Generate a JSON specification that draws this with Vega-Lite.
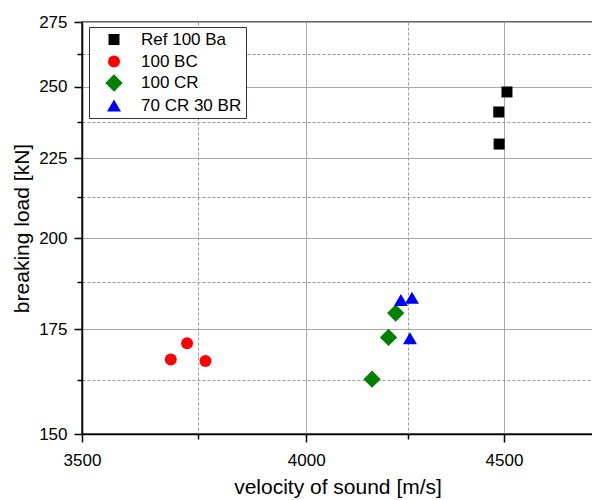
{
  "$schema": "https://vega.github.io/schema/vega-lite/v6.json",
  "width": 511,
  "height": 412,
  "autosize": {"type": "none"},
  "padding": {"left": 82, "top": 22, "right": 0, "bottom": 66},
  "config": {
    "font": "Liberation Sans",
    "view": {"stroke": "#333333", "strokeWidth": 1.5},
    "legend": {
      "orient": "none",
      "legendX": 7,
      "legendY": 5,
      "fillColor": "white",
      "strokeColor": "#333333",
      "strokeWidth": 1,
      "padding": 4,
      "labelFontSize": 17,
      "labelColor": "#000000",
      "labelFont": "Liberation Sans",
      "symbolOffset": 12,
      "labelOffset": 18,
      "rowPadding": 4,
      "symbolStrokeWidth": 0,
      "symbolOpacity": 1
    }
  },
  "data": {
    "values": [
      {"mix": "Ref 100 Ba", "velocity": 4508, "load": 248.1},
      {"mix": "Ref 100 Ba", "velocity": 4486, "load": 240.9},
      {"mix": "Ref 100 Ba", "velocity": 4487, "load": 229.8},
      {"mix": "100 BC", "velocity": 3690, "load": 167.4},
      {"mix": "100 BC", "velocity": 3726, "load": 171.4},
      {"mix": "100 BC", "velocity": 3767, "load": 167.0},
      {"mix": "100 CR", "velocity": 4219, "load": 179.2},
      {"mix": "100 CR", "velocity": 4201, "load": 172.9},
      {"mix": "100 CR", "velocity": 4160, "load": 162.6},
      {"mix": "70 CR 30 BR", "velocity": 4232, "load": 182.7},
      {"mix": "70 CR 30 BR", "velocity": 4260, "load": 183.3},
      {"mix": "70 CR 30 BR", "velocity": 4255, "load": 172.7}
    ]
  },
  "mark": {"type": "point", "filled": true, "opacity": 1, "strokeWidth": 0},
  "encoding": {
    "x": {
      "field": "velocity",
      "type": "quantitative",
      "scale": {"type": "log", "domain": [3500, 4745], "nice": false},
      "axis": {
        "title": "velocity of sound [m/s]",
        "values": [3500, 3750, 4000, 4250, 4500],
        "labelExpr": "datum.value % 500 === 0 ? format(datum.value, 'd') : ''",
        "grid": true,
        "gridColor": {"condition": {"test": "datum.value % 500 === 0", "value": "#a8a8a8"}, "value": "#999999"},
        "gridDash": {"condition": {"test": "datum.value % 500 === 0", "value": []}, "value": [3, 2]},
        "gridWidth": 1,
        "tickSize": {"condition": {"test": "datum.value % 500 === 0", "value": 8}, "value": 5},
        "tickColor": "#000000",
        "tickWidth": 1.5,
        "domainColor": "#000000",
        "domainWidth": 1.5,
        "labelFontSize": 17,
        "labelColor": "#000000",
        "labelPadding": 10,
        "labelFlush": false,
        "labelOverlap": false,
        "labelBound": false,
        "titleFontSize": 21,
        "titleFontWeight": "normal",
        "titleColor": "#000000",
        "titlePadding": 8
      }
    },
    "y": {
      "field": "load",
      "type": "quantitative",
      "scale": {"type": "log", "domain": [150, 275], "nice": false, "zero": false},
      "axis": {
        "title": "breaking load [kN]",
        "values": [150, 162.5, 175, 187.5, 200, 212.5, 225, 237.5, 250, 262.5, 275],
        "labelExpr": "datum.value % 25 === 0 ? format(datum.value, 'd') : ''",
        "grid": true,
        "gridColor": {"condition": {"test": "datum.value % 25 === 0", "value": "#a8a8a8"}, "value": "#999999"},
        "gridDash": {"condition": {"test": "datum.value % 25 === 0", "value": []}, "value": [3, 2]},
        "gridWidth": 1,
        "tickSize": {"condition": {"test": "datum.value % 25 === 0", "value": 8}, "value": 5},
        "tickColor": "#000000",
        "tickWidth": 1.5,
        "domainColor": "#000000",
        "domainWidth": 1.5,
        "labelFontSize": 17,
        "labelColor": "#000000",
        "labelPadding": 7,
        "labelFlush": false,
        "labelOverlap": false,
        "labelBound": false,
        "titleFontSize": 21,
        "titleFontWeight": "normal",
        "titleColor": "#000000",
        "titlePadding": 6
      }
    },
    "color": {
      "field": "mix",
      "type": "nominal",
      "scale": {
        "domain": ["Ref 100 Ba", "100 BC", "100 CR", "70 CR 30 BR"],
        "range": ["#000000", "#ff0000", "#008000", "#0000ff"]
      },
      "legend": {"title": null}
    },
    "shape": {
      "field": "mix",
      "type": "nominal",
      "scale": {
        "domain": ["Ref 100 Ba", "100 BC", "100 CR", "70 CR 30 BR"],
        "range": ["square", "circle", "diamond", "triangle-up"]
      },
      "legend": {"title": null}
    },
    "size": {
      "field": "mix",
      "type": "nominal",
      "scale": {
        "type": "ordinal",
        "domain": ["Ref 100 Ba", "100 BC", "100 CR", "70 CR 30 BR"],
        "range": [121, 144, 300, 196]
      },
      "legend": {"title": null}
    }
  }
}
